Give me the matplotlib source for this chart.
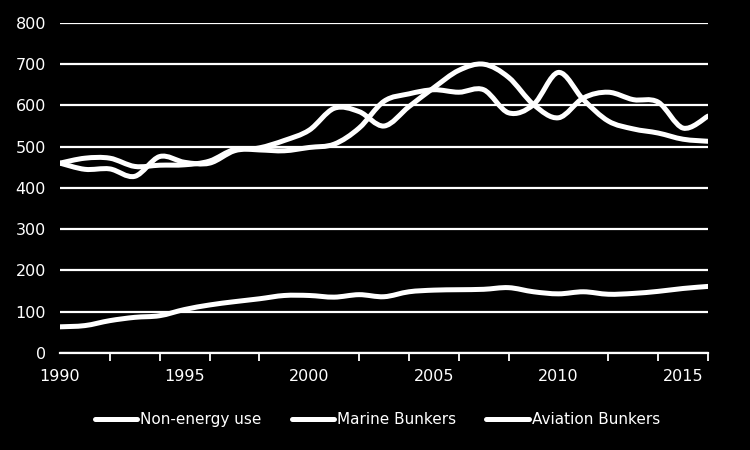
import numpy as np
import matplotlib
matplotlib.use('Agg')
import matplotlib.pyplot as plt
from matplotlib.path import Path
from matplotlib.patches import PathPatch
from matplotlib.lines import Line2D

plt.rcParams['font.family'] = ['DejaVu Sans']

years = list(range(1990, 2017))
# one value per year
non_energy = [460, 445, 446, 428, 476, 462, 460, 490, 497, 515, 540, 593, 585, 550,
              597, 643, 685, 700, 668, 602, 570, 618, 632, 614, 608, 545, 574]
marine = [460, 472, 472, 452, 455, 456, 465, 493, 492, 490, 498, 506, 545, 610,
          628, 638, 632, 638, 582, 602, 680, 614, 562, 543, 533, 518, 513]
aviation = [63, 66, 78, 86, 90, 105, 116, 124, 131, 139, 139, 135, 141, 136,
            148, 152, 153, 154, 158, 148, 143, 148, 142, 144, 149, 156, 161]
series_names = ['Non-energy use', 'Marine Bunkers', 'Aviation Bunkers']
yticks = list(range(0, 900, 100))
xticks = list(range(1990, 2016, 5))
tick_marks = years[::2]

LINE_W = 3.6


def smooth_path(x, y):
    # excel style smoothed line: cubic bezier through every point
    x = np.asarray(x, float)
    y = np.asarray(y, float)
    n = len(x)
    verts = [(x[0], y[0])]
    codes = [Path.MOVETO]
    for i in range(n - 1):
        i0 = max(i - 1, 0)
        i3 = min(i + 2, n - 1)
        c1 = (x[i] + (x[i + 1] - x[i0]) / 6, y[i] + (y[i + 1] - y[i0]) / 6)
        c2 = (x[i + 1] - (x[i3] - x[i]) / 6, y[i + 1] - (y[i3] - y[i]) / 6)
        verts += [c1, c2, (x[i + 1], y[i + 1])]
        codes += [Path.CURVE4] * 3
    return Path(verts, codes)


fig = plt.figure(figsize=(7.5, 4.5), dpi=100, facecolor='black')
ax = fig.add_axes([0.08, 0.216, 0.864, 0.733])
ax.set_facecolor('black')

for vals in [non_energy, marine, aviation]:
    ax.add_patch(PathPatch(smooth_path(years, vals), fill=False, edgecolor='white',
                           lw=LINE_W, capstyle='round', joinstyle='round', zorder=3))

ax.set_xlim(1990, 2016)
ax.set_ylim(0, 800)
ax.set_yticks(yticks)
ax.set_xticks(tick_marks, minor=True)
ax.set_xticks(xticks)
ax.yaxis.grid(True, color='white', lw=1.6)
ax.set_axisbelow(True)

for s in ['top', 'right', 'left']:
    ax.spines[s].set_visible(False)
ax.spines['bottom'].set_color('white')
ax.spines['bottom'].set_linewidth(1.6)

ax.tick_params(axis='y', length=0, colors='white', labelsize=11.5, pad=10)
ax.tick_params(axis='x', which='major', length=0, colors='white', labelsize=11.5, pad=12)
ax.tick_params(axis='x', which='minor', direction='out', length=6, width=1.3, colors='white')

handles = [Line2D([], [], color='white', lw=LINE_W, solid_capstyle='round') for _ in series_names]
leg = fig.legend(handles, series_names, loc='center', bbox_to_anchor=(0.503, 0.067), ncol=3,
                 frameon=False, fontsize=11, handlelength=2.8, handletextpad=0.15,
                 columnspacing=2.0)
for t in leg.get_texts():
    t.set_color('white')

fig.savefig('out.png', dpi=100, facecolor='black')
